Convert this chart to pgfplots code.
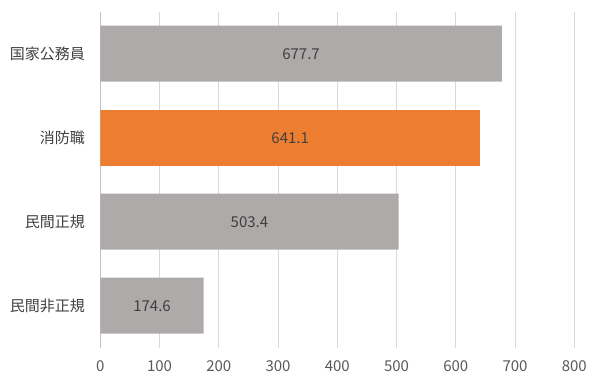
\documentclass[border=0pt]{standalone}
\usepackage{fontspec}
\setmainfont{Noto Sans CJK JP}
\usepackage{pgfplots}
\pgfplotsset{compat=1.18}
\definecolor{barg}{HTML}{AEAAAA}
\definecolor{baro}{HTML}{ED7D31}
\definecolor{gridc}{HTML}{D9D9D9}
\definecolor{axc}{HTML}{BFBFBF}
\definecolor{txt}{HTML}{404040}
\definecolor{tickc}{HTML}{595959}
\begin{document}
\begin{tikzpicture}
\useasboundingbox (0,0) rectangle (600bp,385bp);
\begin{axis}[
  at={(100.3bp,37.3bp)}, anchor=south west,
  scale only axis, width=474bp, height=336bp,
  xmin=0, xmax=800, ymin=-0.5, ymax=3.5, y dir=reverse,
  xtick={0,100,...,800}, ytick={0,1,2,3},
  yticklabels={国家公務員,消防職,民間正規,民間非正規},
  xmajorgrids, major grid style={gridc, line width=0.75bp},
  major tick length=0,
  axis y line*=left, axis x line*=bottom,
  x axis line style={draw=none},
  y axis line style={draw=axc, line width=1bp},
  /pgf/number format/assume math mode=true,
  xticklabel style={text=tickc, font=\fontsize{15bp}{18bp}\selectfont, yshift=-9bp},
  yticklabel style={text=txt, font=\fontsize{15bp}{18bp}\selectfont, xshift=-12bp},
  xbar, bar width=0.667,
  visualization depends on={rawx \as \rawx},
  nodes near coords,
  nodes near coords style={text=txt, font=\fontsize{15bp}{18bp}\selectfont, anchor=center, xshift={-\rawx*0.29625bp}},
]
\addplot[fill=barg, draw=none, bar shift=0pt] coordinates {(677.7,0) (503.4,2) (174.6,3)};
\addplot[fill=baro, draw=none, bar shift=0pt] coordinates {(641.1,1)};
\end{axis}
\end{tikzpicture}
\end{document}
